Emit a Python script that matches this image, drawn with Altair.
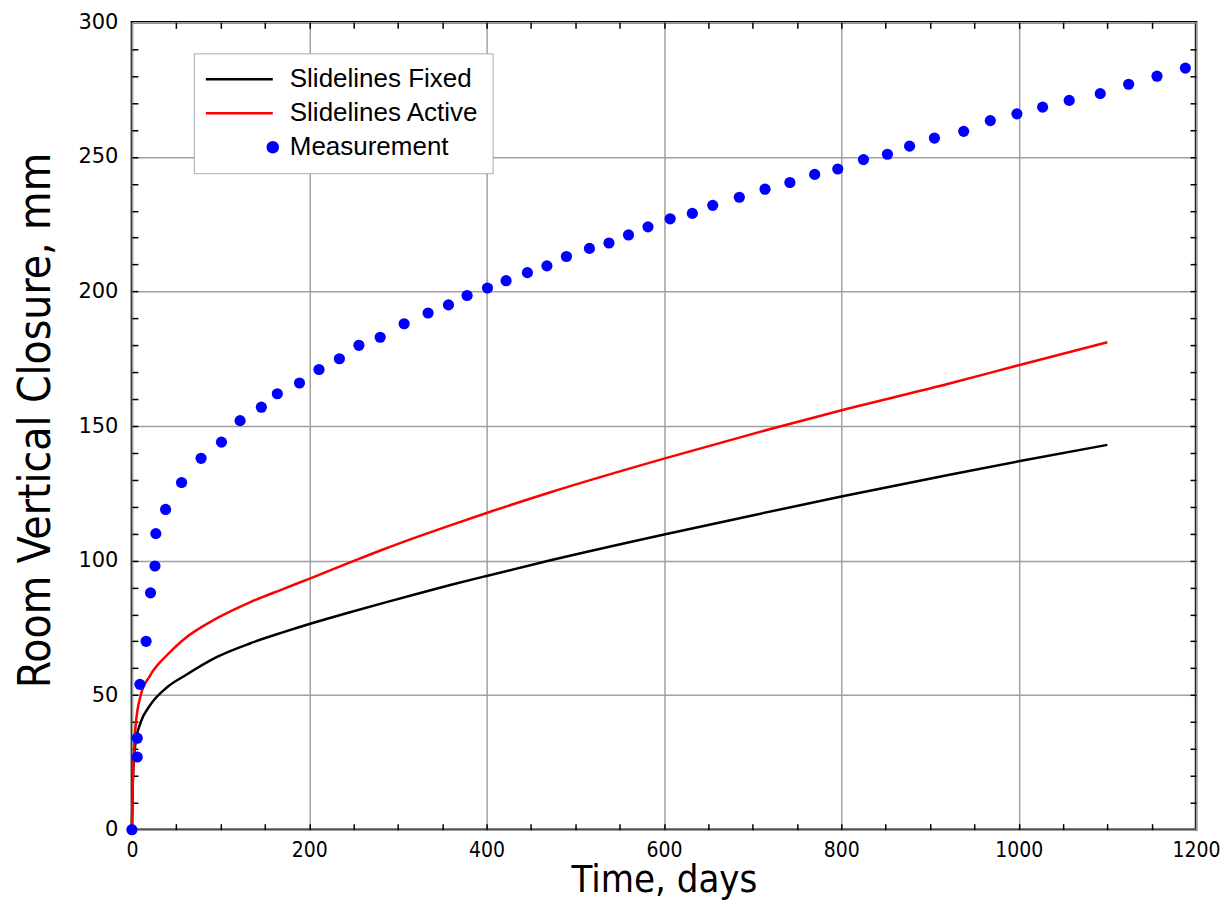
import altair as alt
import pandas as pd

# ---------------- data ----------------
fixed_days = [0, 1, 2, 4, 10, 20, 40, 60, 96, 133, 171, 202, 246, 284, 321, 359, 400, 472, 599, 697, 800, 922, 1000, 1100]
fixed_mm = [0, 17, 25, 32, 40, 46, 53, 57.3, 64.2, 69.2, 73.4, 76.6, 80.8, 84.3, 87.6, 90.9, 94.3, 100.1, 109.6, 116.6, 123.8, 131.9, 136.9, 143]

active_days = [0, 1, 2, 4, 10, 20, 40, 58, 96, 133, 171, 202, 246, 284, 321, 359, 400, 472, 599, 719, 809, 922, 1000, 1100]
active_mm = [0, 18, 27, 38, 50, 57, 65, 70.6, 78.6, 84.5, 89.5, 93.5, 99.3, 104.2, 108.7, 113.1, 117.7, 125.4, 137.8, 148.8, 156.6, 165.8, 172.6, 181.1]

meas_days = [0, 6, 6, 9, 16, 21, 26, 27, 38, 56, 78, 101, 122, 146, 164, 189, 211, 234, 256, 280, 307, 334, 357, 378,
             401, 422, 446, 468, 490, 516, 538, 560, 582, 607, 632, 655, 685, 714, 742, 770, 796, 825, 852, 877,
             905, 938, 968, 998, 1027, 1057, 1092, 1124, 1156, 1188]
meas_mm = [0, 27, 34, 54, 70, 88, 98, 110, 119, 129, 138, 144, 152, 157, 162, 166, 171, 175, 180, 183, 188, 192, 195, 198.5,
           201.3, 204, 207, 209.5, 213, 216, 218, 221, 224, 227, 229, 232, 235, 238, 240.5, 243.5, 245.5, 249, 251, 254,
           257, 259.5, 263.5, 266, 268.5, 271, 273.5, 277, 280, 283]

series_names = ["Slidelines Fixed", "Slidelines Active", "Measurement"]
series_colors = ["#000000", "#ff0000", "#0000ff"]

x_major = [0, 200, 400, 600, 800, 1000, 1200]
y_major = [0, 50, 100, 150, 200, 250, 300]
x_minor = list(range(50, 1200, 50))
y_minor = list(range(10, 300, 10))

# ---------------- tables ----------------
fixed_df = pd.DataFrame({"days": fixed_days, "mm": fixed_mm})
active_df = pd.DataFrame({"days": active_days, "mm": active_mm})
meas_df = pd.DataFrame({"days": meas_days, "mm": meas_mm})
legend_df = pd.DataFrame({"series": series_names, "days": [None] * 3, "mm": [None] * 3})

W, H = 1065, 808
NARROW = "Liberation Sans Narrow, Arial Narrow, DejaVu Sans Condensed, Liberation Sans, sans-serif"

x_scale = alt.Scale(domain=[0, 1200], nice=False, zero=False)
y_scale = alt.Scale(domain=[0, 300], nice=False, zero=False)

# legend symbol shapes (unit = half of the nominal symbol width)
line_path = "M-2.8,0L10.6,0"
dot_path = "M11.6,0A1,1,0,1,1,9.6,0A1,1,0,1,1,11.6,0Z"


def tick_axis(orient, values):
    off = -H if orient in ("top", "bottom") else -W
    return alt.Axis(orient=orient, offset=off, values=values, labels=False, domain=False, grid=False,
                    ticks=True, tickSize=6, tickWidth=1.5, tickColor="black", title=None)


legend = alt.Legend(title=None, orient="none", legendX=62, legendY=31, padding=13,
                    fillColor="white", strokeColor="#aaaaaa", labelFont="Liberation Sans",
                    labelFontSize=26, labelColor="black", labelOffset=57, symbolSize=100,
                    symbolStrokeWidth=2.5, symbolOpacity=1, rowPadding=8, labelLimit=400)

x_main = alt.X("days:Q", scale=x_scale, axis=alt.Axis(
    orient="bottom", values=x_major, format="d", grid=True, ticks=False, domain=False,
    labelFont=NARROW, labelFontSize=21, labelPadding=10, labelColor="black", labelFlush=False,
    title="Time, days", titleFont=NARROW, titleFontSize=38, titleFontWeight="normal",
    titleColor="black", titleX=W / 2, titleY=62, titleAlign="center", titleBaseline="alphabetic"))
y_main = alt.Y("mm:Q", scale=y_scale, axis=alt.Axis(
    orient="left", values=y_major, grid=True, ticks=False, domain=False,
    labelFont="DejaVu Sans", labelFontSize=21, labelPadding=14, labelColor="black",
    title="Room Vertical Closure, mm", titleFont=NARROW, titleFontSize=44, titleFontWeight="normal",
    titleColor="black", titleAngle=270, titleX=-82, titleY=398, titleAlign="center",
    titleBaseline="alphabetic"))

fixed_line = alt.Chart(fixed_df).mark_line(strokeWidth=2.5, interpolate="monotone", color="#000000").encode(
    x=x_main, y=y_main,
)

active_line = alt.Chart(active_df).mark_line(strokeWidth=2.5, interpolate="monotone", color="#ff0000").encode(
    x=alt.X("days:Q", scale=x_scale, axis=None),
    y=alt.Y("mm:Q", scale=y_scale, axis=None),
)

points = alt.Chart(meas_df).mark_circle(size=125, opacity=1, color="#0000ff").encode(
    x=alt.X("days:Q", scale=x_scale, axis=tick_axis("top", x_minor)),
    y=alt.Y("mm:Q", scale=y_scale, axis=tick_axis("right", y_minor)),
)

legend_layer = alt.Chart(legend_df).mark_point(filled=True, opacity=1).encode(
    x=alt.X("days:Q", scale=x_scale, axis=tick_axis("bottom", x_minor)),
    y=alt.Y("mm:Q", scale=y_scale, axis=tick_axis("left", y_minor)),
    color=alt.Color("series:N", scale=alt.Scale(domain=series_names, range=series_colors), legend=legend),
    stroke=alt.Stroke("series:N", scale=alt.Scale(domain=series_names, range=series_colors), legend=legend),
    shape=alt.Shape("series:N", scale=alt.Scale(domain=series_names, range=[line_path, line_path, dot_path]),
                    legend=legend),
)

chart = alt.layer(fixed_line, active_line, points, legend_layer).resolve_axis(
    x="independent", y="independent"
).properties(
    width=W, height=H,
    autosize=alt.AutoSizeParams(type="none"),
    padding={"left": 124, "top": 14, "right": 24, "bottom": 70},
).configure_view(
    stroke="black", strokeWidth=2.5
).configure_axis(
    gridColor="#a0a0a0", gridWidth=1.5, gridOpacity=1
)

chart.save("out.html", embed_options={"renderer": "svg", "actions": False})
